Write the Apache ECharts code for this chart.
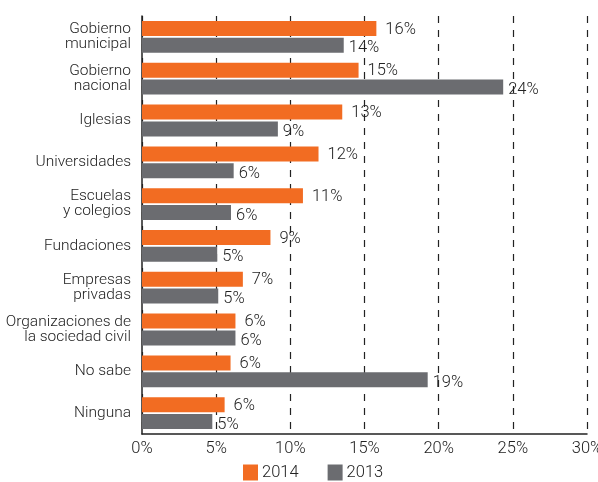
<!DOCTYPE html>
<html>
<head>
<meta charset="utf-8">
<script src="https://cdn.jsdelivr.net/npm/echarts@6/dist/echarts.min.js"></script>
<style>html,body{margin:0;padding:0;background:#fff;}#c{width:598px;height:482px;}</style>
</head>
<body>
<div id="c"></div>
<script>
var categories = ['Gobierno\nmunicipal', 'Gobierno\nnacional', 'Iglesias', 'Universidades', 'Escuelas\ny colegios', 'Fundaciones', 'Empresas\nprivadas', 'Organizaciones de\nla sociedad civil', 'No sabe', 'Ninguna'];
var values2014 = [15.8, 14.6, 13.5, 11.9, 10.85, 8.66, 6.8, 6.3, 5.97, 5.57];
var values2013 = [13.6, 24.35, 9.16, 6.18, 6.0, 5.07, 5.14, 6.3, 19.26, 4.74];
var labels2014 = ['16%', '15%', '13%', '12%', '11%', '9%', '7%', '6%', '6%', '6%'];
var labels2013 = ['14%', '24%', '9%', '6%', '6%', '5%', '5%', '6%', '19%', '5%'];
var xTicks = [0, 5, 10, 15, 20, 25, 30];

var FONT = 'Roboto, "Liberation Sans", Arial, sans-serif';
var W = 300;
var TXT = '#222';
var chart = echarts.init(document.getElementById('c'));
chart.setOption({
  animation: false,
  textStyle: { fontFamily: FONT, fontWeight: W },
  grid: { left: 142, right: 11, top: 16, bottom: 48, containLabel: false, outerBoundsMode: 'none' },
  legend: {
    left: 238, top: 459,
    itemWidth: 15, itemHeight: 16, itemGap: 29,
    icon: 'rect',
    textStyle: { fontFamily: FONT, fontWeight: W, fontSize: 16.5, color: TXT, padding: [0, 0, 0, -1] },
    data: ['2014', '2013']
  },
  xAxis: {
    type: 'value', min: 0, max: 30, interval: 5,
    axisLine: { show: true, lineStyle: { color: '#222', width: 1.5 } },
    axisTick: { show: false },
    axisLabel: { fontFamily: FONT, fontWeight: W, fontSize: 16.5, color: TXT, margin: 6, hideOverlap: false,
      formatter: function (v) { return xTicks.indexOf(v) >= 0 ? v + '%' : ''; } },
    splitLine: { show: true, lineStyle: { color: '#222', type: [7, 7], width: 1.2 } }
  },
  yAxis: {
    type: 'category', data: categories, inverse: true,
    axisLine: { show: true, lineStyle: { color: '#222', width: 1.5 } },
    axisTick: { show: false },
    axisLabel: { fontFamily: FONT, fontWeight: W, fontSize: 15.5, lineHeight: 15, color: TXT, margin: 11, align: 'right' },
    splitLine: { show: false }
  },
  series: [
    {
      name: '2014', type: 'bar', data: values2014, barWidth: 15, barGap: '12%',
      itemStyle: { color: '#F26C22' },
      label: { show: true, position: 'right', distance: 9, offset: [0, 1],
        fontFamily: FONT, fontWeight: W, fontSize: 16.5, color: TXT,
        formatter: function (p) { return labels2014[p.dataIndex]; } }
    },
    {
      name: '2013', type: 'bar', data: values2013, barWidth: 15, barGap: '12%',
      itemStyle: { color: '#6B6C70' },
      label: { show: true, position: 'right', distance: 5, offset: [0, 3],
        fontFamily: FONT, fontWeight: W, fontSize: 16.5, color: TXT,
        formatter: function (p) { return labels2013[p.dataIndex]; } }
    }
  ]
});
</script>
</body>
</html>
